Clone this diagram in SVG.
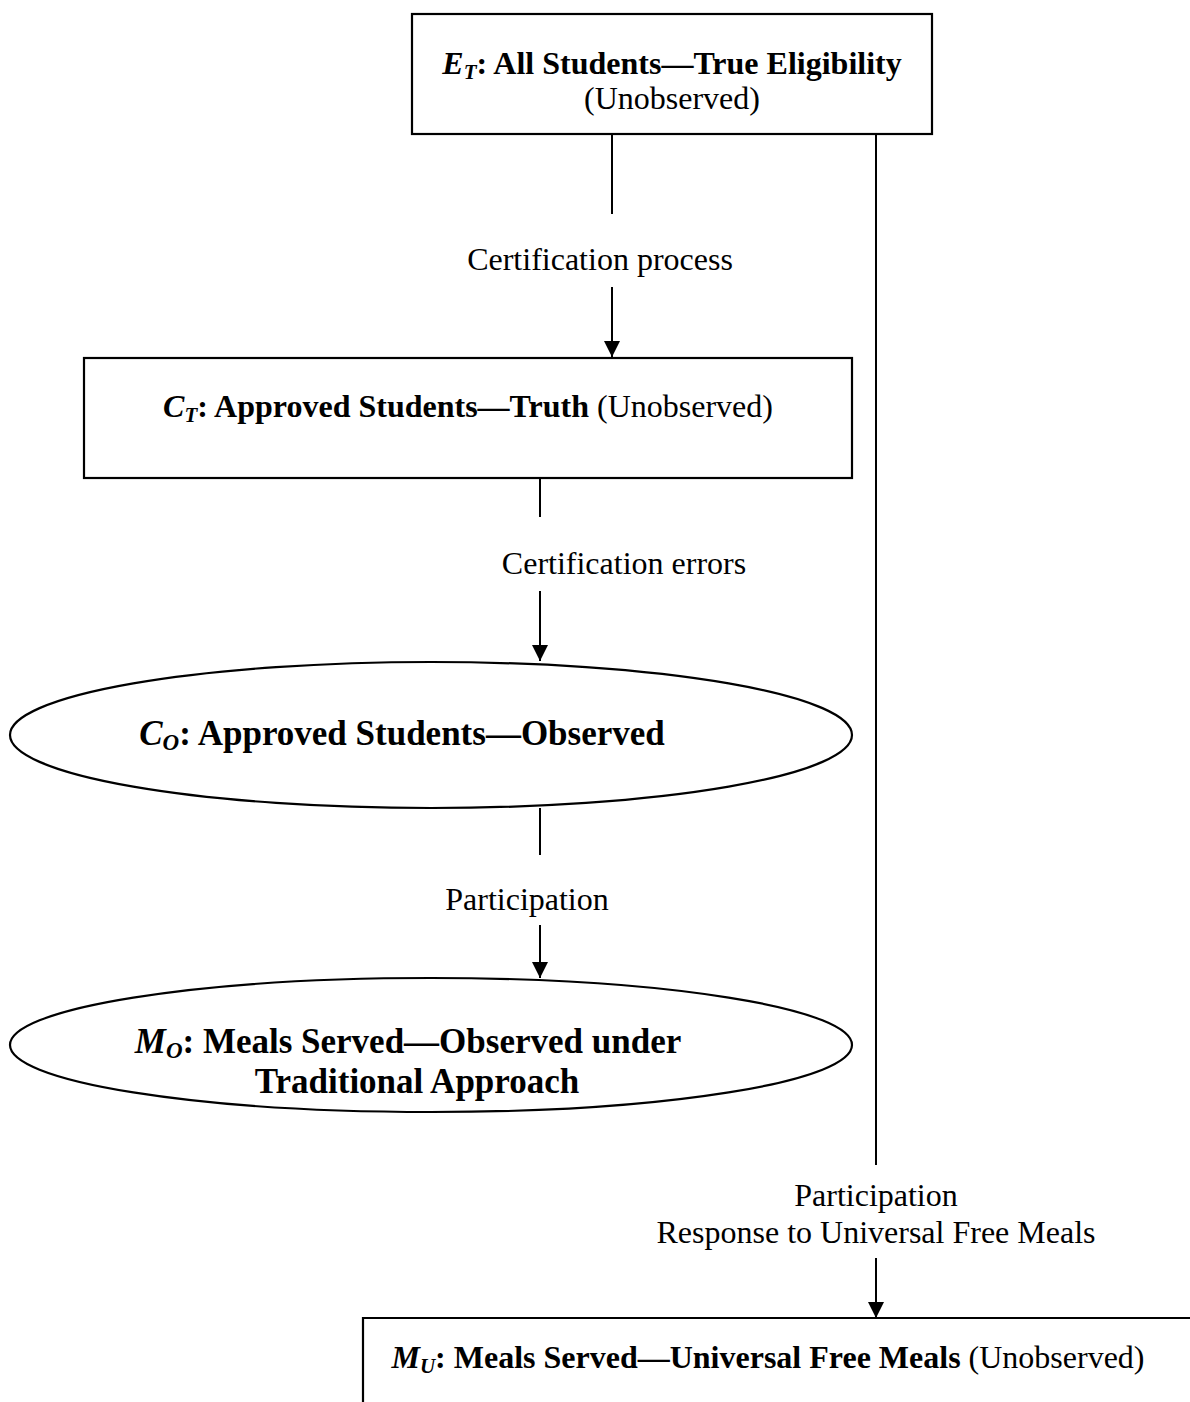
<svg xmlns="http://www.w3.org/2000/svg" width="1190" height="1402" viewBox="0 0 1190 1402">
<style>
.t{font-family:"Liberation Serif","Times New Roman",serif;font-size:32px;fill:#000;text-anchor:middle}
.b{font-weight:bold}
.i{font-style:italic}
.e{font-size:35px}
.shape{fill:#fff;stroke:#000;stroke-width:2.2}
.ln{stroke:#000;stroke-width:2;fill:none}
</style>
<defs>
<marker id="ah" markerUnits="userSpaceOnUse" markerWidth="16" markerHeight="16" viewBox="0 0 16 16" refX="16" refY="8" orient="auto">
<path d="M0,0 L16,8 L0,16 z" fill="#000"/>
</marker>
</defs>
<g id="connectors">
<line class="ln" x1="612" y1="134" x2="612" y2="214"/>
<line class="ln" x1="612" y1="287" x2="612" y2="357" marker-end="url(#ah)"/>
<line class="ln" x1="540" y1="478" x2="540" y2="517"/>
<line class="ln" x1="540" y1="591" x2="540" y2="661" marker-end="url(#ah)"/>
<line class="ln" x1="540" y1="808" x2="540" y2="855"/>
<line class="ln" x1="540" y1="925" x2="540" y2="978" marker-end="url(#ah)"/>
<line class="ln" x1="876" y1="134" x2="876" y2="1165"/>
<line class="ln" x1="876" y1="1258" x2="876" y2="1318" marker-end="url(#ah)"/>
<text class="t" x="600" y="270">Certification process</text>
<text class="t" x="624" y="574">Certification errors</text>
<text class="t" x="527" y="910">Participation</text>
<text class="t" x="876" y="1206">Participation</text>
<text class="t" x="876" y="1243">Response to Universal Free Meals</text>
</g>
<g id="node-ET">
<rect class="shape" x="412" y="14" width="520" height="120"/>
<text class="t b" x="672" y="74"><tspan class="i">E</tspan><tspan class="i" font-size="21" dy="5">T</tspan><tspan dy="-5">: All Students—True Eligibility</tspan></text>
<text class="t" x="672" y="109">(Unobserved)</text>
</g>
<g id="node-CT">
<rect class="shape" x="84" y="358" width="768" height="120"/>
<text class="t b" x="468" y="417"><tspan class="i">C</tspan><tspan class="i" font-size="21" dy="5">T</tspan><tspan dy="-5">: Approved Students—Truth</tspan><tspan font-weight="normal"> (Unobserved)</tspan></text>
</g>
<g id="node-CO">
<ellipse class="shape" cx="431" cy="735" rx="421" ry="73"/>
<text class="t b e" x="402" y="745"><tspan class="i">C</tspan><tspan class="i" font-size="23" dy="5">O</tspan><tspan dy="-5">: Approved Students—Observed</tspan></text>
</g>
<g id="node-MO">
<ellipse class="shape" cx="431" cy="1045" rx="421" ry="67"/>
<text class="t b e" x="408" y="1053"><tspan class="i">M</tspan><tspan class="i" font-size="23" dy="5">O</tspan><tspan dy="-5">: Meals Served—Observed under</tspan></text>
<text class="t b e" x="417" y="1093">Traditional Approach</text>
</g>
<g id="node-MU">
<path class="shape" d="M363,1402 V1318 H1192"/>
<text class="t b" x="768" y="1368"><tspan class="i">M</tspan><tspan class="i" font-size="21" dy="5">U</tspan><tspan dy="-5">: Meals Served—Universal Free Meals</tspan><tspan font-weight="normal"> (Unobserved)</tspan></text>
</g>
</svg>
